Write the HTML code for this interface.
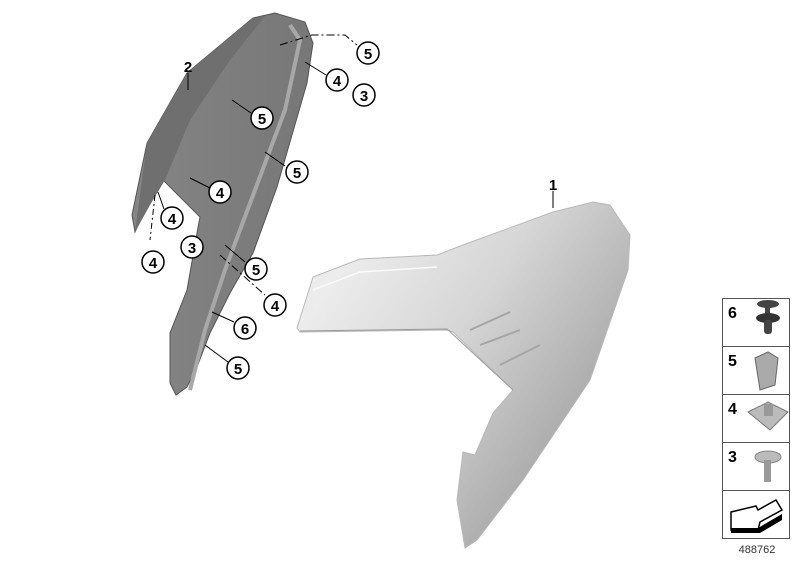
<!DOCTYPE html>
<html><head><style>
body{margin:0;background:#fff;width:800px;height:560px;overflow:hidden;font-family:"Liberation Sans",sans-serif}
svg text{font-family:"Liberation Sans",sans-serif;font-weight:bold}
</style></head><body>
<svg width="800" height="560" viewBox="0 0 800 560" xmlns="http://www.w3.org/2000/svg">
<defs>
<linearGradient id="g1" x1="0.2" y1="0.1" x2="0.9" y2="0.6">
<stop offset="0" stop-color="#ececec"/><stop offset="0.45" stop-color="#d6d6d6"/><stop offset="1" stop-color="#a8a8a8"/>
</linearGradient>
<linearGradient id="g2" x1="0" y1="0" x2="1" y2="0">
<stop offset="0" stop-color="#858585"/><stop offset="1" stop-color="#777"/>
</linearGradient>
</defs>
<!-- part 1 -->
<path d="M297,328 L313,277 L360,259 L437,255 L463,245 L553,212 L593,202 L610,205 L630,235 L628,270 L590,380 L523,480 L477,540 L465,548 L457,500 L463,452 L475,455 L493,413 L513,390 L453,332 L447,330 L300,332 Z" fill="url(#g1)" stroke="#b8b8b8"/>
<path d="M313,290 L360,272 L437,267" fill="none" stroke="#fafafa" stroke-width="1.5"/>
<path d="M300,331 L447,329 L513,390" fill="none" stroke="#9a9a9a"/>
<path d="M470,330 L510,312 M480,345 L520,330 M500,365 L540,345" stroke="#a5a5a5" stroke-width="2"/>
<!-- part 2 -->
<path d="M253,18 L275,13 L305,22 L313,43 L307,83 L277,187 L253,253 L230,293 L210,333 L197,367 L187,387 L176,395 L170,383 L170,333 L187,290 L197,233 L200,217 L163,180 L150,200 L135,232 L132,215 L147,143 L187,73 Z" fill="url(#g2)" stroke="#555"/>
<path d="M135,232 L147,143 L187,73 L253,18 L265,16 L230,60 L190,120 L165,180 L150,205 Z" fill="#6f6f6f"/>
<path d="M290,25 L300,40 L285,110 L255,190 L225,270 L205,330 L190,390" fill="none" stroke="#a8a8a8" stroke-width="4"/>
<!-- leader lines -->
<g stroke="#000" stroke-width="1" fill="none">
<line x1="188" y1="73" x2="188" y2="90"/>
<line x1="553" y1="191" x2="553" y2="208"/>
<polyline points="280,45 312,35 345,35 357,45" stroke-dasharray="8,3,2,3"/>
<line x1="305" y1="62" x2="326" y2="75"/>
<line x1="232" y1="100" x2="251" y2="113"/>
<line x1="265" y1="152" x2="285" y2="166"/>
<line x1="190" y1="178" x2="210" y2="188"/>
<line x1="158" y1="192" x2="164" y2="209"/>
<line x1="155" y1="195" x2="150" y2="240" stroke-dasharray="6,3,2,3"/>
<line x1="225" y1="245" x2="245" y2="262"/>
<line x1="220" y1="255" x2="265" y2="295" stroke-dasharray="8,3,2,3"/>
<line x1="212" y1="312" x2="234" y2="322"/>
<line x1="205" y1="345" x2="228" y2="362"/>
</g>
<text x="188" y="72" font-size="15" text-anchor="middle">2</text>
<text x="553" y="190" font-size="15" text-anchor="middle">1</text>
<g fill="#fff" stroke="#000" stroke-width="1.5">
<circle cx="368" cy="53" r="11"/><circle cx="337" cy="80" r="11"/><circle cx="364" cy="95" r="11"/>
<circle cx="262" cy="118" r="11"/><circle cx="297" cy="172" r="11"/><circle cx="220" cy="192" r="11"/>
<circle cx="172" cy="218" r="11"/><circle cx="192" cy="247" r="11"/><circle cx="153" cy="262" r="11"/>
<circle cx="256" cy="269" r="11"/><circle cx="275" cy="305" r="11"/><circle cx="245" cy="328" r="11"/>
<circle cx="238" cy="368" r="11"/>
</g>
<g font-size="15" text-anchor="middle">
<text x="368" y="59">5</text><text x="337" y="86">4</text><text x="364" y="101">3</text>
<text x="262" y="124">5</text><text x="297" y="178">5</text><text x="220" y="198">4</text>
<text x="172" y="224">4</text><text x="192" y="253">3</text><text x="153" y="268">4</text>
<text x="256" y="275">5</text><text x="275" y="311">4</text><text x="245" y="334">6</text>
<text x="238" y="374">5</text>
</g>
<!-- legend -->
<g fill="none" stroke="#555" stroke-width="1">
<rect x="722.5" y="298.5" width="67" height="240"/>
<line x1="722" y1="346.5" x2="790" y2="346.5"/>
<line x1="722" y1="394.5" x2="790" y2="394.5"/>
<line x1="722" y1="442.5" x2="790" y2="442.5"/>
<line x1="722" y1="490.5" x2="790" y2="490.5"/>
</g>
<g font-size="16"><text x="728" y="318">6</text><text x="728" y="366">5</text><text x="728" y="414">4</text><text x="728" y="462">3</text></g>
<ellipse cx="768" cy="304" rx="11" ry="4" fill="#444"/><rect x="765" y="304" width="5" height="10" fill="#444"/>
<ellipse cx="768" cy="318" rx="12" ry="5" fill="#333"/><rect x="764" y="320" width="8" height="14" rx="3" fill="#444"/>
<path d="M755,358 L768,352 L778,358 L775,385 L760,390 Z" fill="#aaa" stroke="#666"/>
<path d="M748,412 L768,402 L788,412 L770,430 Z" fill="#bbb" stroke="#777"/><rect x="764" y="404" width="9" height="12" fill="#999"/>
<ellipse cx="768" cy="457" rx="13" ry="6" fill="#bbb" stroke="#888"/><rect x="764" y="460" width="7" height="22" fill="#999"/>
<path d="M731,512 L731,530 L758,530 L760,522 L782,510 L776,500 L758,510 L756,506 Z" fill="#fff" stroke="#000" stroke-width="1.5"/>
<path d="M731,528 L758,528 L782,514 L782,520 L760,533 L731,533 Z" fill="#000"/>
<text x="757" y="553" font-size="11" text-anchor="middle" fill="#333" style="font-weight:normal">488762</text>
</svg>
</body></html>
